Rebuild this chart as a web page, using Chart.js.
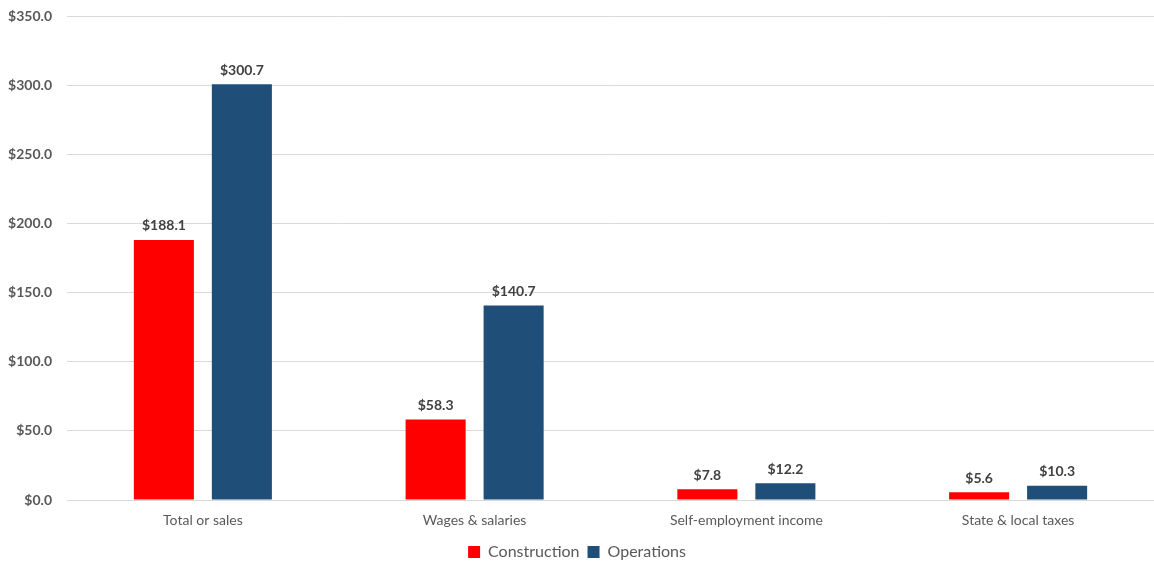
<!DOCTYPE html>
<html>
<head>
<meta charset="utf-8">
<script src="https://cdn.jsdelivr.net/npm/chart.js@4"></script>
<style>
html,body{margin:0;padding:0;background:#fff;overflow:hidden;}
#wrap{width:1154px;height:566px;position:relative;}
</style>
</head>
<body>
<div id="wrap"><canvas id="c"></canvas></div>
<script>
const categories = ["Total or sales", "Wages & salaries", "Self-employment income", "State & local taxes"];
const construction = [188.1, 58.3, 7.8, 5.6];
const operations = [300.7, 140.7, 12.2, 10.3];
const seriesNames = ["Construction", "Operations"];

const FONT = "Lato, 'Open Sans', sans-serif";
const fmt = v => "$" + v.toFixed(1);

const labelPlugin = {
  id: "valueLabels",
  afterDatasetsDraw(chart) {
    const ctx = chart.ctx;
    ctx.save();
    ctx.font = "bold 14px " + FONT;
    ctx.fillStyle = "#404040";
    ctx.textAlign = "center";
    ctx.textBaseline = "bottom";
    chart.data.datasets.forEach((ds, i) => {
      chart.getDatasetMeta(i).data.forEach((bar, j) => {
        ctx.fillText(fmt(ds.data[j]), bar.x, bar.y - 7);
      });
    });
    ctx.restore();
  }
};

new Chart(document.getElementById("c"), {
  type: "bar",
  data: {
    labels: categories,
    datasets: [
      { label: seriesNames[0], data: construction, backgroundColor: "#FF0000", barPercentage: 0.77, categoryPercentage: 0.574 },
      { label: seriesNames[1], data: operations, backgroundColor: "#1F4E79", barPercentage: 0.77, categoryPercentage: 0.574 }
    ]
  },
  options: {
    responsive: true,
    maintainAspectRatio: false,
    animation: false,
    layout: { padding: { top: 0, right: 0, left: 0, bottom: 0 } },
    plugins: {
      legend: {
        position: "bottom",
        maxHeight: 30,
        labels: {
          font: { family: FONT, size: 16 },
          color: "#595959",
          boxWidth: 12, boxHeight: 12,
          padding: 8
        }
      },
      tooltip: { enabled: false }
    },
    scales: {
      x: {
        grid: { display: false, drawTicks: false, tickLength: 0 },
        border: { display: false },
        ticks: { font: { family: FONT, size: 14 }, color: "#595959", padding: 12 },
        afterFit: s => { s.paddingLeft = 0; s.paddingRight = 0; s.height = 36; }
      },
      y: {
        min: 0, max: 350,
        ticks: { stepSize: 50, callback: v => fmt(v), font: { family: FONT, size: 14, weight: "bold" }, color: "#595959", padding: 15 },
        grid: { color: "#D9D9D9", drawTicks: false },
        border: { display: false },
        afterFit: s => { s.width = 67; s.paddingTop = 16; s.paddingBottom = 0; }
      }
    }
  },
  plugins: [labelPlugin]
});
</script>
</body>
</html>
